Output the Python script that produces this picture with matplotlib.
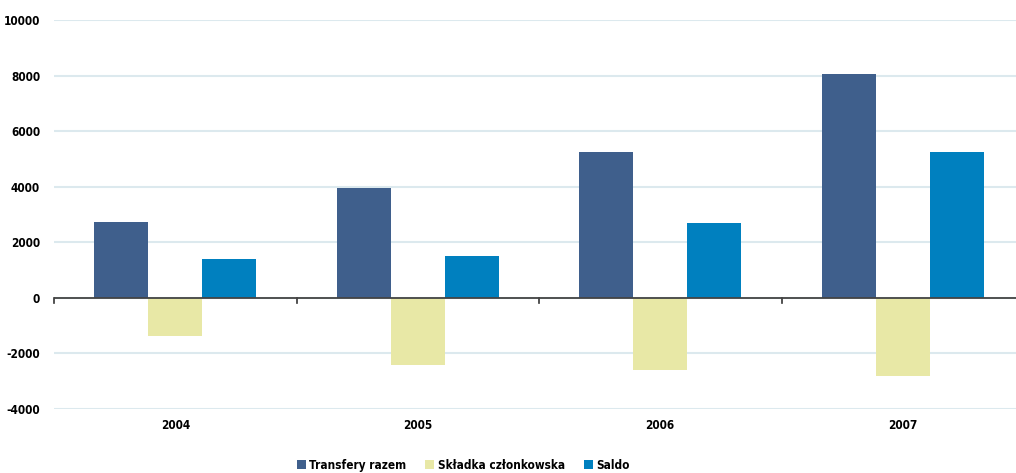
import matplotlib.pyplot as plt
import numpy as np

lata = ['2004', '2005', '2006', '2007']
transfery = [2740, 3960, 5260, 8070]
skladka = [-1370, -2410, -2590, -2810]
saldo = [1400, 1510, 2700, 5260]

plt.rcParams['font.family'] = ['DejaVu Sans']
plt.rcParams['font.stretch'] = 'condensed'
plt.rcParams['font.weight'] = 'bold'
plt.rcParams['axes.unicode_minus'] = False

fig = plt.figure(figsize=(10.16, 4.73), dpi=100)
ax = fig.add_axes([54 / 1016, 64 / 473, 962 / 1016, 389 / 473])

x = np.arange(len(lata))
w = 0.223
ax.bar(x - w, transfery, w, color='#3f5f8c', label='Transfery razem', zorder=3)
ax.bar(x, skladka, w, color='#e8e8a6', label='Składka członkowska', zorder=3)
ax.bar(x + w, saldo, w, color='#0080bf', label='Saldo', zorder=3)

ax.set_ylim(-4000, 10000)
ax.set_xlim(-0.5, -0.5 + 962 / 242.5)
ax.set_yticks(np.arange(-4000, 10001, 2000))
ax.yaxis.grid(True, color='#dce9ee', linewidth=1.5, zorder=0)
ax.tick_params(axis='y', length=0, labelsize=8.5, pad=10)

# category separators as ticks on the zero line
ax.set_xticks([])
for b in np.arange(-0.5, 3.5, 1):
    ax.plot([b, b], [0, -180], color='#333333', linewidth=1.2, zorder=4, clip_on=False)
ax.axhline(0, color='#444444', linewidth=1.3, zorder=4)
for i, lab in enumerate(lata):
    ax.text(i, -4350, lab, ha='center', va='top', fontsize=8.5, fontweight='bold')

for s in ax.spines.values():
    s.set_visible(False)

leg = fig.legend(loc='center', bbox_to_anchor=(0.456, 8 / 473), ncol=3, frameon=False,
                 fontsize=8.5, handlelength=0.75, handleheight=0.75, handletextpad=0.3,
                 columnspacing=1.6)

plt.savefig('out.png', dpi=100)
